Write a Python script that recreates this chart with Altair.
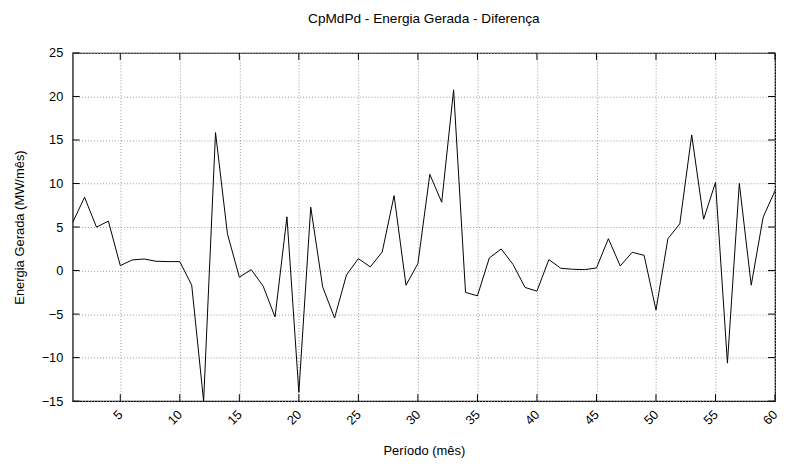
import altair as alt
import pandas as pd

periodo = list(range(1, 61))
diferenca = [
    5.52, 8.42, 4.99, 5.68, 0.57, 1.22, 1.33, 1.07, 1.03, 1.03,
    -1.68, -15.0, 15.85, 4.23, -0.76, 0.11, -1.79, -5.33, 6.17, -14.0,
    7.28, -1.87, -5.45, -0.50, 1.37, 0.42, 2.13, 8.61, -1.68, 0.80,
    11.05, 7.85, 20.76, -2.51, -2.90, 1.45, 2.48, 0.69, -1.94, -2.36,
    1.26, 0.27, 0.15, 0.11, 0.30, 3.66, 0.53, 2.10, 1.75, -4.53,
    3.66, 5.37, 15.58, 5.90, 10.13, -10.63, 10.02, -1.68, 6.13, 9.18,
]
x_ticks = list(range(5, 61, 5))
y_ticks = list(range(-15, 26, 5))

W, H = 706, 350
FONT = "Liberation Sans"

df = pd.DataFrame({"periodo": periodo, "diferenca": diferenca})
xt = pd.DataFrame({"v": x_ticks})
yt = pd.DataFrame({"v": y_ticks})

xscale = alt.Scale(domain=[1, 60], nice=False, zero=False)
yscale = alt.Scale(domain=[-15, 25], nice=False, zero=False)

line = alt.Chart(df).mark_line(color="black", strokeWidth=1, clip=True).encode(
    x=alt.X("periodo:Q", scale=xscale, title="Período (mês)",
            axis=alt.Axis(values=x_ticks, tickSize=0, labelAngle=-45, labelAlign="right",
                          labelBaseline="middle", labelPadding=11, domain=False,
                          grid=True, gridDash=[1, 2], gridColor="#999999",
                          titleX=W / 2, titleY=50, titleBaseline="middle")),
    y=alt.Y("diferenca:Q", scale=yscale, title="Energia Gerada (MW/mês)",
            axis=alt.Axis(values=y_ticks, tickSize=0, labelPadding=10, domain=False,
                          grid=True, gridDash=[1, 2], gridColor="#999999",
                          titleX=-53, titleY=H / 2, titleAlign="center",
                          titleBaseline="middle", titleAngle=-90)),
)

tick_len = 7
xb = alt.Chart(xt).mark_rule(color="black", strokeWidth=1).encode(
    x=alt.X("v:Q", scale=xscale), y=alt.value(H), y2=alt.value(H - tick_len))
xtp = alt.Chart(xt).mark_rule(color="black", strokeWidth=1).encode(
    x=alt.X("v:Q", scale=xscale), y=alt.value(0), y2=alt.value(tick_len))
yl = alt.Chart(yt).mark_rule(color="black", strokeWidth=1).encode(
    y=alt.Y("v:Q", scale=yscale), x=alt.value(0), x2=alt.value(tick_len))
yr = alt.Chart(yt).mark_rule(color="black", strokeWidth=1).encode(
    y=alt.Y("v:Q", scale=yscale), x=alt.value(W), x2=alt.value(W - tick_len))

chart = alt.layer(line, xb, xtp, yl, yr).properties(
    width=W, height=H,
    title=alt.TitleParams("CpMdPd - Energia Gerada - Diferença", anchor="middle",
                          fontSize=13.7, fontWeight="normal", font=FONT, offset=21,
                          color="black"),
    autosize=alt.AutoSizeParams(type="none"),
    padding={"left": 65, "top": 44, "right": 8, "bottom": 62},
).configure_axis(
    labelFont=FONT, titleFont=FONT, labelFontSize=12.8, titleFontSize=13,
    labelColor="black", titleColor="black", titleFontWeight="normal",
).configure_view(stroke="black", strokeWidth=1.2)

chart.save("out.html", embed_options={"renderer": "svg", "actions": False})
